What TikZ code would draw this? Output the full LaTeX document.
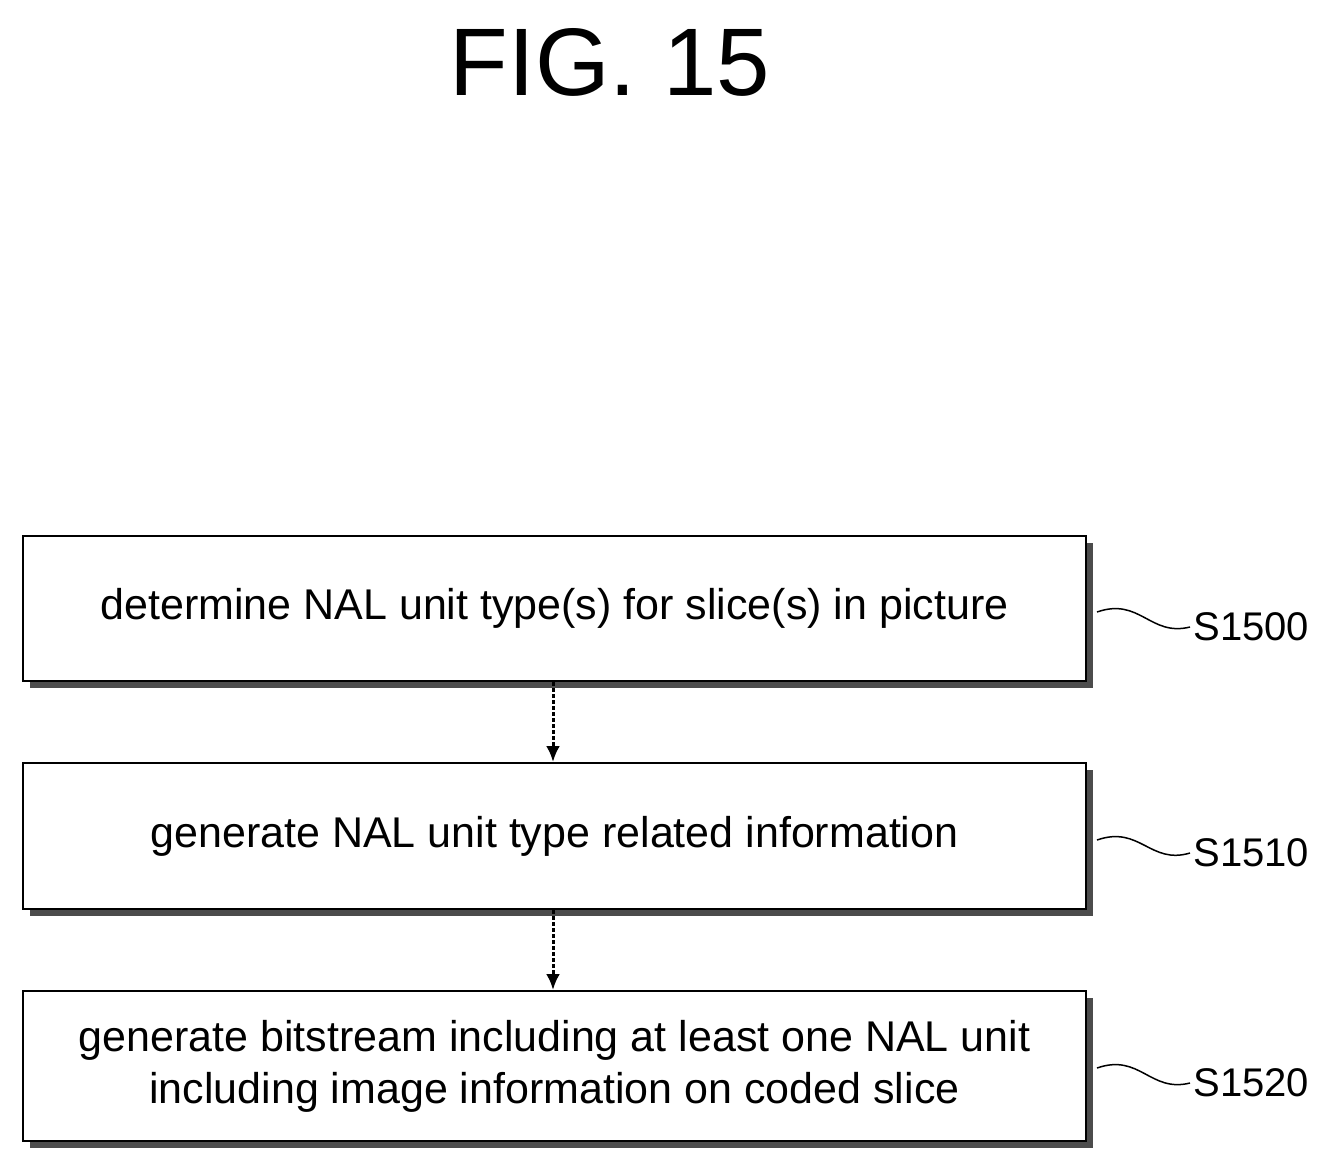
\documentclass[tikz,border=0pt]{standalone}
\usepackage{fontspec}
\setmainfont{Liberation Sans}
\usetikzlibrary{arrows.meta}
\begin{document}
\begin{tikzpicture}[x=1pt,y=-1pt,
 box/.style={draw,line width=2pt,fill=white,minimum width=1063pt,anchor=north west,inner sep=0pt,align=center,font=\fontsize{43}{52}\selectfont},
 shadow/.style={fill=black!70},
 lab/.style={font=\fontsize{40}{40}\selectfont,anchor=west},
 arr/.style={line width=3pt,dash pattern=on 4pt off 2pt,-{Latex[length=16pt,width=14pt]}},
 wave/.style={line width=1.5pt}]
\useasboundingbox (0,0) rectangle (1340,1167);
\node[font=\fontsize{96}{100}\selectfont] (title) at (610,62) {FIG. 15};
\fill[shadow] (30,543) rectangle (1093,688);
\node[box,minimum height=145pt] (b1) at (22,535) {determine NAL unit type(s) for slice(s) in picture};
\fill[shadow] (30,770) rectangle (1093,916);
\node[box,minimum height=146pt] (b2) at (22,762) {generate NAL unit type related information};
\fill[shadow] (30,998) rectangle (1093,1148);
\node[box,minimum height=150pt] (b3) at (22,990) {generate bitstream including at least one NAL unit\\including image information on coded slice};
\draw[arr] (b1.south -| 553,0) -- (b2.north -| 553,0);
\draw[arr] (b2.south -| 553,0) -- (b3.north -| 553,0);
\node[lab] (l1) at (1190,627) {S1500};
\node[lab] (l2) at (1190,853) {S1510};
\node[lab] (l3) at (1190,1083) {S1520};
\foreach \b/\l/\y in {b1/l1/612, b2/l2/840, b3/l3/1068}{
 \draw[wave] (1097,\y) .. controls (1140,\y-15) and (1150,\y+25) .. (\l.west);
}
\end{tikzpicture}
\end{document}
